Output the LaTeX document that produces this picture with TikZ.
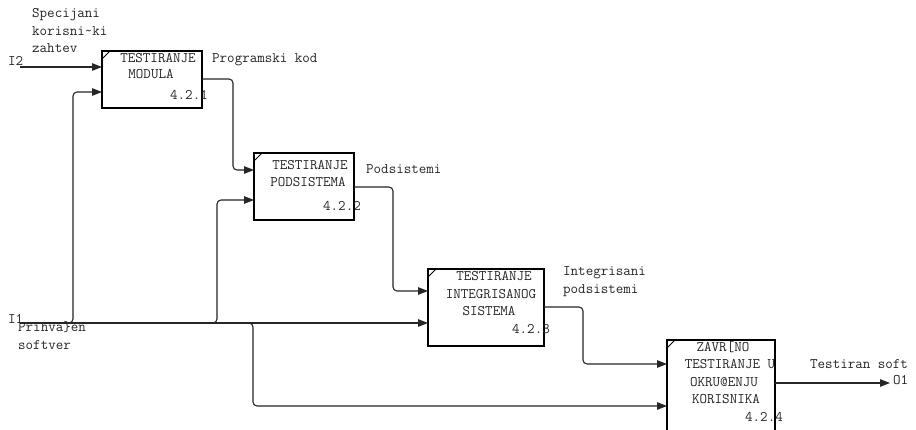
\documentclass[tikz,border=0pt]{standalone}
\usepackage{fontspec}
\usetikzlibrary{arrows.meta,calc}
\begin{document}
\begin{tikzpicture}[x=1pt,y=-1pt,
  every node/.style={font=\ttfamily\fontsize{14.6}{17}\selectfont, text=black!85, inner sep=0pt},
  box/.style={draw=black, line width=1.8pt, anchor=north west, inner sep=0pt, outer sep=0pt},
  conn/.style={draw=black!85, line width=1.1pt, rounded corners=4pt},
  arr/.style={conn, -{Triangle[length=10pt,width=7.5pt]}},
  cornermark/.style={draw=black, line width=1pt},
  lbl/.style={anchor=mid west},
  ctr/.style={anchor=mid}]
\clip (0,0) rectangle (916,430);
\fill[white] (0,0) rectangle (916,430);

% boxes
\node[box, minimum width=100pt, minimum height=57pt] (b1) at (102,51) {};
\node[box, minimum width=100pt, minimum height=67pt] (b2) at (254,153) {};
\node[box, minimum width=116pt, minimum height=77pt] (b3) at (428,269) {};
\node[box, minimum width=108pt, minimum height=100pt] (b4) at (667,340) {};

\foreach \b in {b1,b2,b3,b4}{
  \draw[cornermark] ($(\b.north west)+(0,8)$) -- ($(\b.north west)+(8,0)$);
}

% box texts
\node[ctr] (t1a) at (158,60) {TESTIRANJE};
\node[ctr] (t1b) at (151,76) {MODULA};
\node[lbl] (t1c) at (170,97) {4.2.1};

\node[ctr] (t2a) at (310,167) {TESTIRANJE};
\node[ctr] (t2b) at (308,184) {PODSISTEMA};
\node[lbl] (t2c) at (323,208) {4.2.2};

\node[ctr] (t3a) at (494,278) {TESTIRANJE};
\node[ctr] (t3b) at (491,296) {INTEGRISANOG};
\node[ctr] (t3c) at (489,313) {SISTEMA};
\node[lbl] (t3d) at (512,331) {4.2.3};

\node[ctr] (t4a) at (723,349) {ZAVR[NO};
\node[ctr] (t4b) at (730,366) {TESTIRANJE U};
\node[ctr] (t4c) at (724,384) {OKRU@ENJU};
\node[ctr] (t4d) at (726,401) {KORISNIKA};
\node[lbl] (t4e) at (745,419) {4.2.4};

% connection points
\coordinate (i2) at (20,67);
\coordinate (i1) at (20,323);
\coordinate (j1) at (73,323);
\coordinate (j2) at (217,323);
\coordinate (j3) at (253,323);
\coordinate (o1) at (890,383);
\coordinate (b1i2) at ($(b1.north west)+(0,41)$);
\coordinate (b1o) at ($(b1.north east)+(0,28)$);
\coordinate (b2i1) at ($(b2.north west)+(0,17)$);
\coordinate (b2i2) at ($(b2.north west)+(0,47)$);
\coordinate (b2o) at ($(b2.north east)+(0,34)$);
\coordinate (b3i1) at ($(b3.north west)+(0,22)$);
\coordinate (b3o) at ($(b3.north east)+(0,38)$);
\coordinate (b4i1) at ($(b4.north west)+(0,24)$);
\coordinate (b4i2) at ($(b4.north west)+(0,66)$);
\coordinate (b4o) at ($(b4.north east)+(0,43)$);

% connectors
\draw[arr] (i2) -- (i2 -| b1.west);
\draw[arr] (i1) -- (i1 -| b3.west);
\draw[arr] (i1) -- (j1) |- (b1i2);
\draw[arr] ($(j2)+(-8,0)$) -- (j2) |- (b2i2);
\draw[arr] ($(j3)+(-8,0)$) -- (j3) |- (b4i2);
\draw[arr] (b1o) -- ++(31,0) |- (b2i1);
\draw[arr] (b2o) -- ++(39,0) |- (b3i1);
\draw[arr] (b3o) -- ++(39,0) |- (b4i1);
\draw[arr] (b4o) -- (o1);

% labels
\node[lbl] (l1) at (32,15) {Specijani};
\node[lbl] (l2) at (32,33) {korisni\string~ki};
\node[lbl] (l3) at (32,50) {zahtev};
\node[lbl] (li2) at (8,63) {I2};
\node[lbl] (lpk) at (212,60) {Programski kod};
\node[lbl] (lps) at (366,171) {Podsistemi};
\node[lbl] (lin1) at (563,273) {Integrisani};
\node[lbl] (lin2) at (563,291) {podsistemi};
\node[lbl] (li1) at (8,321) {I1};
\node[lbl] (lp1) at (18,329) {Prihva\}en};
\node[lbl] (lp2) at (18,347) {softver};
\node[lbl] (lts) at (810,366) {Testiran soft};
\node[lbl] (lo1) at (893,382) {O1};
\end{tikzpicture}
\end{document}
